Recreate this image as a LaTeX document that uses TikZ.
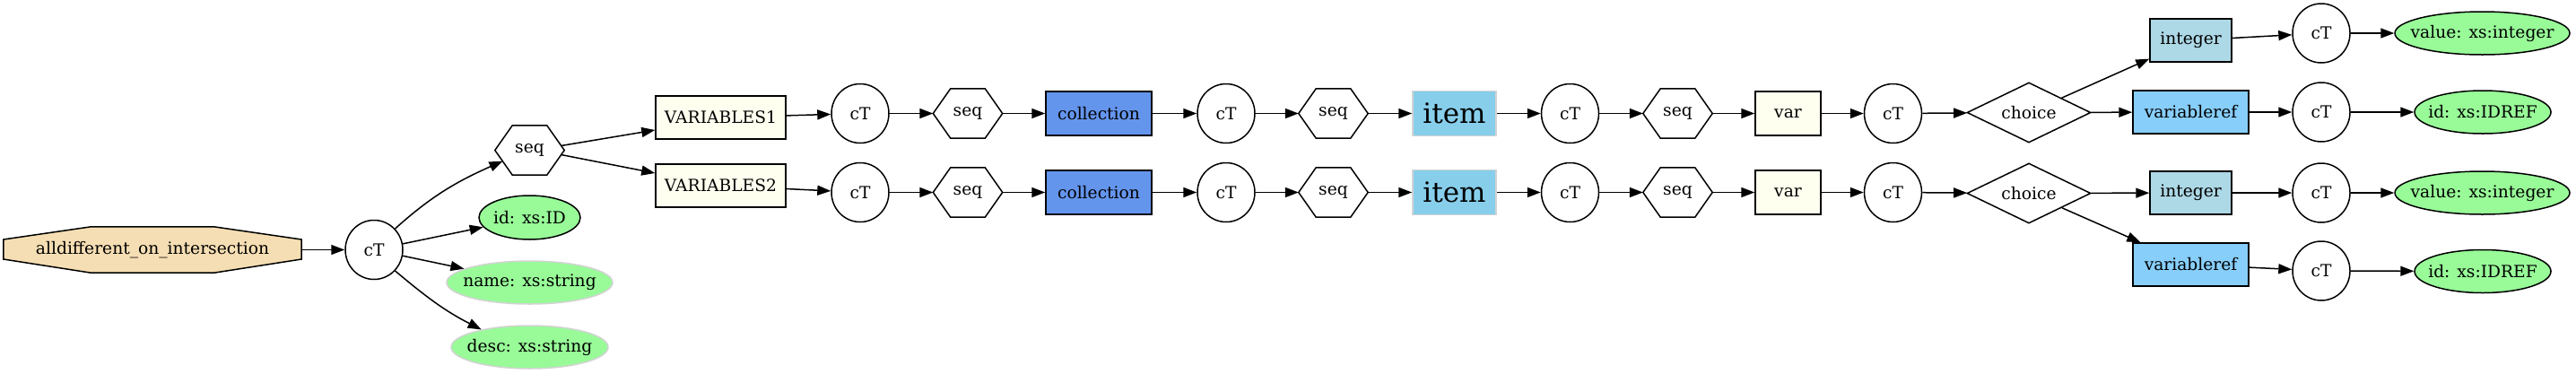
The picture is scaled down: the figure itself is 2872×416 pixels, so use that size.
\documentclass[tikz,border=0pt]{standalone}
\usepackage{fontspec}
\setmainfont{DejaVu Serif}
\usetikzlibrary{shapes.geometric,arrows.meta}
\definecolor{wheatc}{HTML}{F5DEB3}
\definecolor{ivoryc}{HTML}{FFFFF0}
\definecolor{cornflower}{HTML}{6495ED}
\definecolor{skyb}{HTML}{87CEEB}
\definecolor{lblue}{HTML}{ADD8E6}
\definecolor{lskyblue}{HTML}{87CEFA}
\definecolor{pgreen}{HTML}{98FB98}
\definecolor{lgray}{HTML}{D3D3D3}
\pgfdeclarelayer{background}
\pgfsetlayers{background,main}
\begin{document}
\begin{tikzpicture}[x=1pt,y=-1pt,
  font=\fontsize{18.67}{22.4}\selectfont,
  bord/.style={draw=black, line width=1.5pt},
  ctnode/.style={ellipse, bord, minimum width=64pt, minimum height=66pt, inner sep=0pt},
  hexnode/.style={rectangle, minimum width=77pt, minimum height=55pt, inner sep=0pt},
  boxnode/.style={rectangle, bord, inner sep=0pt, minimum height=48pt},
  gell/.style={ellipse, bord, fill=pgreen, inner sep=0pt, minimum height=48pt},
  chnode/.style={diamond, bord, inner sep=0pt, minimum width=138pt, minimum height=67pt, aspect=2.06},
  edge/.style={-{Triangle[length=15pt,width=11pt]}, line width=1.5pt}]
\useasboundingbox (0,0) rectangle (2872,416);

% left part
\node[rectangle, minimum width=332pt, minimum height=51pt, inner sep=0pt] (root) at (170,278.5) {alldifferent\_on\_intersection};
\begin{pgfonlayer}{background}
\filldraw[bord, fill=wheatc] ([xshift=-68.5pt]root.north) -- ([xshift=68.5pt]root.north) -- ([yshift=11.5pt]root.east) -- ([yshift=-10.5pt]root.east) -- ([xshift=68.5pt]root.south) -- ([xshift=-68.5pt]root.south) -- ([yshift=-10.5pt]root.west) -- ([yshift=11.5pt]root.west) -- cycle;
\end{pgfonlayer}
\node[ctnode] (ct0) at (417,278.5) {cT};
\node[hexnode] (s0) at (590.5,167.5) {seq};
\node[gell, minimum width=113pt, minimum height=49pt, label=center:{id: xs:ID}] (idA) at (590.5,242.5) {};
\node[gell, draw=lgray, minimum width=185pt, label=center:{name: xs:string}] (nameA) at (590.5,315) {};
\node[gell, draw=lgray, minimum width=175pt, label=center:{desc: xs:string}] (descA) at (590.5,387) {};
\node[boxnode, fill=ivoryc, minimum width=145pt] (V1) at (803.5,131) {VARIABLES1};
\node[boxnode, fill=ivoryc, minimum width=145pt] (V2) at (803.5,207) {VARIABLES2};

% two chains
\foreach \r/\y in {a/126.5, b/214.5} {
  \node[ctnode] (ct\r1) at (959,\y) {cT};
  \node[hexnode] (s\r1) at (1079,\y) {seq};
  \node[boxnode, fill=cornflower, minimum width=118pt, minimum height=49pt] (coll\r) at (1225,\y) {collection};
  \node[ctnode] (ct\r2) at (1367,\y) {cT};
  \node[hexnode] (s\r2) at (1486.5,\y) {seq};
  \node[boxnode, draw=lgray, fill=skyb, minimum width=93pt, minimum height=50pt, font=\fontsize{31}{36}\selectfont] (item\r) at (1621.5,\y) {item};
  \node[ctnode] (ct\r3) at (1750.5,\y) {cT};
  \node[hexnode] (s\r3) at (1870.5,\y) {seq};
  \node[boxnode, fill=ivoryc, minimum width=73pt, minimum height=49pt] (var\r) at (1993.5,\y) {var};
  \node[ctnode] (ct\r4) at (2110.5,\y) {cT};
}

% choice, row a
\node[chnode] (cha) at (2262,125.5) {choice};
\node[boxnode, fill=lblue, minimum width=91pt] (inta) at (2442.5,45) {integer};
\node[boxnode, fill=lskyblue, minimum width=129pt] (vrefa) at (2442.5,125) {variableref};
\node[ctnode] (cta5) at (2588,37) {cT};
\node[gell, minimum width=195pt, label=center:{value: xs:integer}] (vala) at (2767.5,37) {};
\node[ctnode] (cta6) at (2588,125) {cT};
\node[gell, minimum width=152pt, label=center:{id: xs:IDREF}] (idra) at (2768,125) {};

% choice, row b
\node[chnode] (chb) at (2262,215.5) {choice};
\node[boxnode, fill=lblue, minimum width=91pt] (intb) at (2442.5,215) {integer};
\node[boxnode, fill=lskyblue, minimum width=129pt] (vrefb) at (2442.5,295) {variableref};
\node[ctnode] (ctb5) at (2588,215) {cT};
\node[gell, minimum width=195pt, label=center:{value: xs:integer}] (valb) at (2767.5,215) {};
\node[ctnode] (ctb6) at (2588,302) {cT};
\node[gell, minimum width=152pt, label=center:{id: xs:IDREF}] (idrb) at (2768,302.5) {};

% hexagon outlines
\foreach \n in {s0,sa1,sa2,sa3,sb1,sb2,sb3}
  \draw[bord] (\n.west) -- ([xshift=-19.25pt]\n.north) -- ([xshift=19.25pt]\n.north) -- (\n.east) -- ([xshift=19.25pt]\n.south) -- ([xshift=-19.25pt]\n.south) -- cycle;

% edges
\draw[edge] (root) -- (ct0);
\draw[edge] (ct0.45) to[out=42,in=204] ([xshift=-30pt,yshift=-12.1pt]s0.center);
\draw[edge] (ct0) -- (idA);
\draw[edge] (ct0) -- (nameA);
\draw[edge] (ct0.-45) to[out=-40,in=153] (descA.160);
\draw[edge] ([xshift=35pt,yshift=5pt]s0.center) -- ([yshift=-14pt]V1.west);
\draw[edge] ([xshift=35pt,yshift=-5pt]s0.center) -- ([yshift=14pt]V2.west);
\draw[edge] (V1) -- (cta1);
\draw[edge] (V2) -- (ctb1);
\foreach \r in {a,b} {
  \draw[edge] (ct\r1) -- (s\r1);
  \draw[edge] (s\r1) -- (coll\r);
  \draw[edge] (coll\r) -- (ct\r2);
  \draw[edge] (ct\r2) -- (s\r2);
  \draw[edge] (s\r2) -- (item\r);
  \draw[edge] (item\r) -- (ct\r3);
  \draw[edge] (ct\r3) -- (s\r3);
  \draw[edge] (s\r3) -- (var\r);
  \draw[edge] (var\r) -- (ct\r4);
  \draw[edge] (ct\r4) -- (ch\r);
  \draw[edge] (ch\r) -- (int\r);
  \draw[edge] (ch\r) -- (vref\r);
  \draw[edge] (int\r) -- (ct\r5);
  \draw[edge] (ct\r5) -- (val\r);
  \draw[edge] (vref\r) -- (ct\r6);
  \draw[edge] (ct\r6) -- (idr\r);
}
\end{tikzpicture}
\end{document}
